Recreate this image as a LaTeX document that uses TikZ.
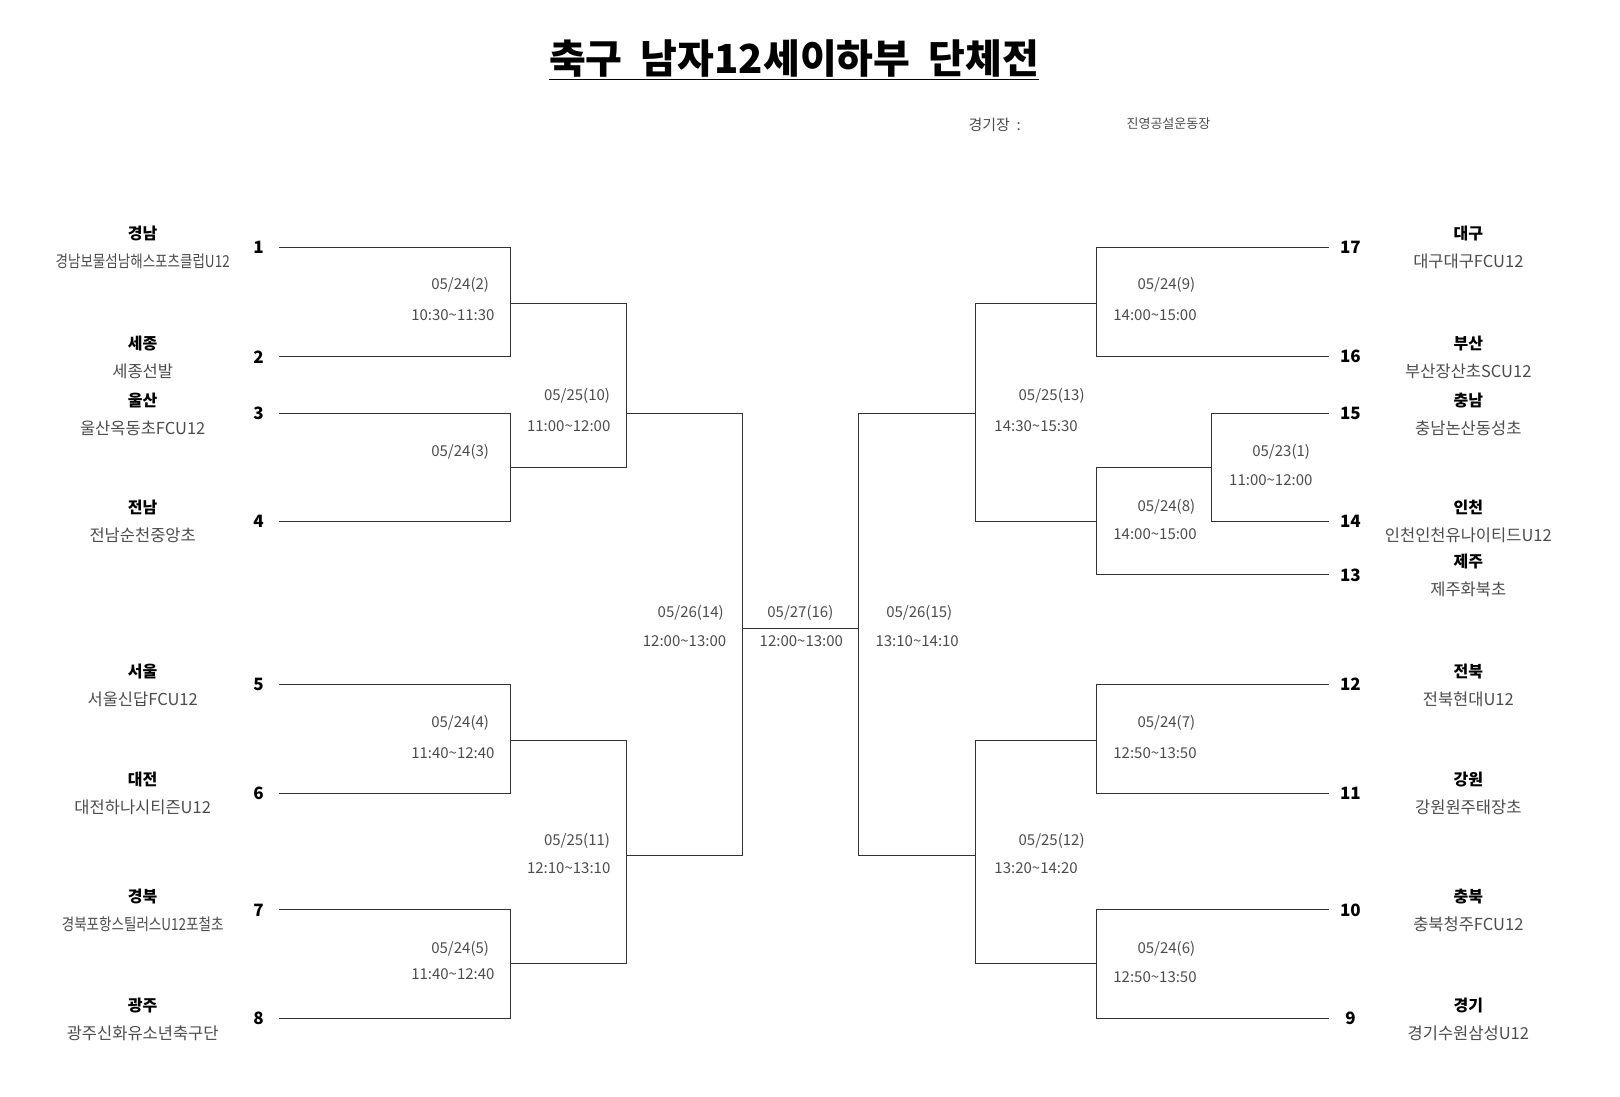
\documentclass[tikz,border=0pt]{standalone}
\usepackage{fontspec}
\setmainfont{Noto Sans CJK KR}
\begin{document}
\begin{tikzpicture}[x=1.034pt,y=-1.034pt,
  ln/.style={line width=0.9pt,black!80},
  reg/.style={font=\fontsize{16}{18}\selectfont\bfseries},
  tm/.style={font=\fontsize{16.5}{18}\selectfont,text=black!70},
  num/.style={font=\fontsize{17}{19}\selectfont\bfseries},
  dt/.style={font=\fontsize{15}{17}\selectfont,text=black!70}]
\useasboundingbox (0,0) rectangle (1566.7,1060);
\node[font=\fontsize{40}{44}\selectfont\bfseries] (title) at (768,58) {\underline{축구\ \ 남자12세이하부\ \ 단체전}};
\node[dt] (gk) at (962,121) {경기장\ \ :};
\node[font=\fontsize{13}{15}\selectfont,text=black!70] (venue) at (1130,120) {진영공설운동장};
% left teams
\foreach \n/\y/\r/\t in {1/239/경남/{\scalebox{0.82}[1]{경남보물섬남해스포츠클럽U12}},2/345/세종/세종선발,3/400/울산/울산옥동초FCU12,4/504/전남/전남순천중앙초,5/662/서울/서울신답FCU12,6/767/대전/대전하나시티즌U12,7/880/경북/{\scalebox{0.82}[1]{경북포항스틸러스U12포철초}},8/985/광주/광주신화유소년축구단}{
  \node[num] (n\n) at (250,\y) {\n};
  \node[reg] (r\n) at (138,\y-13) {\r};
  \node[tm] (t\n) at (138,\y+14) {\t};
  \coordinate (a\n) at (270,\y);
}
\foreach \n/\y/\r/\t in {17/239/대구/대구대구FCU12,16/345/부산/부산장산초SCU12,15/400/충남/충남논산동성초,14/504/인천/인천인천유나이티드U12,13/556/제주/제주화북초,12/662/전북/전북현대U12,11/767/강원/강원원주태장초,10/880/충북/충북청주FCU12,9/985/경기/경기수원삼성U12}{
  \node[num] (n\n) at (1306,\y) {\n};
  \node[reg] (r\n) at (1420,\y-13) {\r};
  \node[tm] (t\n) at (1420,\y+14) {\t};
  \coordinate (a\n) at (1285,\y);
}
% left bracket
\draw[ln] (a1) -| (494,293) |- (a2);
\draw[ln] (a3) -| (494,452) |- (a4);
\draw[ln] (a5) -| (494,716) |- (a6);
\draw[ln] (a7) -| (494,932) |- (a8);
\draw[ln] (494,293) -- (606,293) -- (606,452) -- (494,452);
\draw[ln] (494,716) -- (606,716) -- (606,932) -- (494,932);
\draw[ln] (606,400) -- (718,400) -- (718,827) -- (606,827);
\draw[ln] (718,608) -- (830,608);
% right bracket
\draw[ln] (a17) -| (1060,293) |- (a16);
\draw[ln] (a15) -| (1172,452) |- (a14);
\draw[ln] (1172,452) -- (1060,452) -- (1060,556) -- (a13);
\draw[ln] (a12) -| (1060,716) |- (a11);
\draw[ln] (a10) -| (1060,932) |- (a9);
\draw[ln] (1060,293) -- (943,293) -- (943,504) -- (1060,504);
\draw[ln] (1060,716) -- (943,716) -- (943,932) -- (1060,932);
\draw[ln] (943,400) -- (830,400) -- (830,827) -- (943,827);
% labels
\foreach \i/\x/\y/\d/\xx/\yy/\tt in {a/445/275/{05/24(2)}/438/305/10:30\textasciitilde11:30,
 b/558/383/{05/25(10)}/550/412/11:00\textasciitilde12:00,
 d/445/699/{05/24(4)}/438/728/11:40\textasciitilde12:40,
 e/445/918/{05/24(5)}/438/942/11:40\textasciitilde12:40,
 f/558/813/{05/25(11)}/550/840/12:10\textasciitilde13:10,
 g/668/593/{05/26(14)}/662/620/12:00\textasciitilde13:00,
 h/774/593/{05/27(16)}/775/620/12:00\textasciitilde13:00,
 i/889/593/{05/26(15)}/887/620/13:10\textasciitilde14:10,
 j/1128/275/{05/24(9)}/1117/305/14:00\textasciitilde15:00,
 k/1017/383/{05/25(13)}/1002/412/14:30\textasciitilde15:30,
 l/1239/437/{05/23(1)}/1229/464/11:00\textasciitilde12:00,
 m/1128/490/{05/24(8)}/1117/517/14:00\textasciitilde15:00,
 o/1128/699/{05/24(7)}/1117/728/12:50\textasciitilde13:50,
 p/1017/813/{05/25(12)}/1002/840/13:20\textasciitilde14:20,
 q/1128/918/{05/24(6)}/1117/945/12:50\textasciitilde13:50}{
 \node[dt] (d\i) at (\x,\y) {\d};
 \node[dt] (s\i) at (\xx,\yy) {\tt};
}
\node[dt] (dc) at (445,437) {05/24(3)};
\end{tikzpicture}
\end{document}
